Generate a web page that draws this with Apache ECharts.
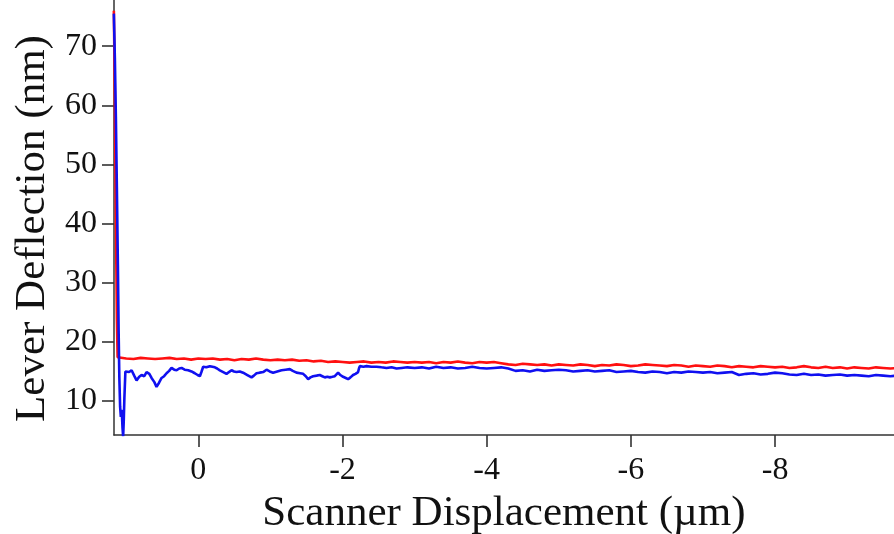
<!DOCTYPE html>
<html>
<head>
<meta charset="utf-8">
<script src="https://cdn.jsdelivr.net/npm/echarts@6/dist/echarts.min.js"></script>
<style>html,body{margin:0;padding:0;background:#fff}#c{width:894px;height:534px}</style>
</head>
<body>
<div id="c"></div>
<script>
// x tick labels (µm) and y tick labels (nm)
const xTicks = [0, -2, -4, -6, -8];
const yTicks = [10, 20, 30, 40, 50, 60, 70];

// red trace [displacement µm, deflection nm]
const redData = [
  [1.172,76],[1.16,64],[1.15,50],[1.14,36],[1.13,24],[1.12,17.4],
  [1.1,17.3],[1.0,17.2],[0.9,17.1],[0.8,17.3],[0.7,17.2],[0.6,17.1],[0.5,17.2],[0.4,17.3],[0.3,17.1],[0.2,17.2],[0.1,17.0],[0.0,17.2],
  [-0.1,17.1],[-0.2,17.2],[-0.3,17.0],[-0.4,17.1],[-0.5,16.9],[-0.6,17.1],[-0.7,17.0],[-0.8,17.2],[-0.9,17.0],[-1.0,16.9],
  [-1.1,17.0],[-1.2,16.9],[-1.3,17.0],[-1.4,16.8],[-1.5,16.9],[-1.6,16.7],[-1.7,16.8],[-1.8,16.6],[-1.9,16.7],[-2.0,16.6],
  [-2.1,16.5],[-2.2,16.6],[-2.3,16.7],[-2.4,16.5],[-2.5,16.6],[-2.6,16.5],[-2.7,16.7],[-2.8,16.6],[-2.9,16.5],[-3.0,16.6],
  [-3.1,16.5],[-3.2,16.6],[-3.3,16.4],[-3.4,16.6],[-3.5,16.5],[-3.6,16.7],[-3.7,16.5],[-3.8,16.4],[-3.9,16.6],[-4.0,16.5],
  [-4.1,16.6],[-4.2,16.4],[-4.3,16.2],[-4.4,16.1],[-4.5,16.3],[-4.6,16.2],[-4.7,16.1],[-4.8,16.2],[-4.9,16.0],[-5.0,16.2],
  [-5.1,16.1],[-5.2,16.0],[-5.3,16.2],[-5.4,16.1],[-5.5,15.9],[-5.6,16.1],[-5.7,16.0],[-5.8,16.2],[-5.9,16.1],[-6.0,15.9],
  [-6.1,16.0],[-6.2,16.2],[-6.3,16.1],[-6.4,16.0],[-6.5,15.9],[-6.6,16.1],[-6.7,16.0],[-6.8,15.8],[-6.9,16.0],[-7.0,15.9],
  [-7.1,15.8],[-7.2,16.0],[-7.3,15.9],[-7.4,15.7],[-7.5,15.9],[-7.6,15.8],[-7.7,15.7],[-7.8,15.9],[-7.9,15.8],[-8.0,15.7],
  [-8.1,15.8],[-8.2,15.6],[-8.3,15.7],[-8.4,15.9],[-8.5,15.7],[-8.6,15.6],[-8.7,15.8],[-8.8,15.6],[-8.9,15.7],[-9.0,15.5],
  [-9.1,15.7],[-9.2,15.6],[-9.3,15.5],[-9.4,15.7],[-9.5,15.6],[-9.6,15.5],[-9.7,15.6]
];

// blue trace [displacement µm, deflection nm]
const blueData = [
  [1.172,75.5],[1.158,68],[1.144,58],[1.13,46],[1.116,33],[1.106,22],[1.096,14],[1.085,9],[1.075,7.3],[1.068,8.5],
  [1.061,8],[1.052,5.5],[1.043,4.0],[1.035,6.5],[1.026,10.5],[1.012,15.0],[0.996,15.3],[0.96,14.9],[0.926,15.2],[0.89,14.3],
  [0.857,13.5],[0.82,14.1],[0.788,14.4],[0.75,14.2],[0.718,14.9],[0.68,14.6],[0.649,13.9],[0.61,13.2],[0.58,12.4],[0.545,13.1],
  [0.51,13.9],[0.475,14.2],[0.441,14.7],[0.405,15.1],[0.372,15.6],[0.335,15.3],[0.302,15.2],[0.265,15.5],[0.233,15.6],[0.19,15.3],
  [0.141,15.2],[0.095,15.0],[0.049,14.7],[0.01,14.4],[-0.021,14.2],[-0.045,15.0],[-0.067,15.8],[-0.11,15.7],[-0.16,15.9],[-0.195,15.8],
  [-0.229,15.7],[-0.26,15.5],[-0.298,15.2],[-0.345,14.9],[-0.391,14.6],[-0.425,14.9],[-0.46,15.2],[-0.495,15.0],[-0.53,14.9],[-0.575,15.0],
  [-0.621,14.8],[-0.68,14.4],[-0.738,14.0],[-0.77,14.3],[-0.807,14.7],[-0.85,14.8],[-0.899,14.9],[-0.946,15.3],[-0.99,15.0],[-1.037,14.8],
  [-1.095,15.0],[-1.154,15.2],[-1.21,15.3],[-1.269,15.4],[-1.31,15.1],[-1.362,14.8],[-1.41,14.7],[-1.454,14.6],[-1.49,14.2],[-1.523,13.7],
  [-1.555,14.0],[-1.592,14.2],[-1.64,14.3],[-1.685,14.4],[-1.72,14.2],[-1.755,14.0],[-1.79,14.1],[-1.824,14.0],[-1.86,14.1],[-1.893,14.2],
  [-1.939,14.8],[-1.97,14.4],[-2.008,14.1],[-2.045,13.9],[-2.078,13.7],[-2.11,14.0],[-2.147,14.4],[-2.18,14.6],[-2.216,14.9],[-2.228,15.5],
  [-2.24,15.9],[-2.29,15.8],[-2.333,15.9],[-2.4,15.8],[-2.472,15.8],[-2.54,15.7],[-2.61,15.6],[-2.68,15.7],[-2.749,15.5],[-2.82,15.6],
  [-2.9,15.7],[-3.0,15.6],
  [-3.1,15.7],[-3.2,15.5],[-3.3,15.8],[-3.4,15.6],[-3.5,15.7],[-3.6,15.5],[-3.7,15.6],[-3.8,15.8],[-3.9,15.6],[-4.0,15.5],
  [-4.1,15.6],[-4.2,15.7],[-4.3,15.5],[-4.4,15.1],[-4.5,15.2],[-4.6,15.0],[-4.7,15.3],[-4.8,15.1],[-4.9,15.2],[-5.0,15.3],
  [-5.1,15.2],[-5.2,15.0],[-5.3,15.1],[-5.4,15.2],[-5.5,15.0],[-5.6,15.1],[-5.7,15.2],[-5.8,14.9],[-5.9,15.0],[-6.0,15.1],
  [-6.1,14.9],[-6.2,14.8],[-6.3,15.0],[-6.4,14.9],[-6.5,14.7],[-6.6,14.9],[-6.7,14.8],[-6.8,15.0],[-6.9,14.9],[-7.0,14.8],
  [-7.1,14.9],[-7.2,14.7],[-7.3,14.8],[-7.4,14.9],[-7.5,14.4],[-7.6,14.6],[-7.7,14.7],[-7.8,14.5],[-7.9,14.6],[-8.0,14.8],
  [-8.1,14.7],[-8.2,14.5],[-8.3,14.4],[-8.4,14.6],[-8.5,14.4],[-8.6,14.5],[-8.7,14.3],[-8.8,14.4],[-8.9,14.5],[-9.0,14.3],
  [-9.1,14.4],[-9.2,14.3],[-9.3,14.2],[-9.4,14.4],[-9.5,14.3],[-9.6,14.2],[-9.7,14.3]
];

const FONT = '"Liberation Serif", "DejaVu Serif", serif';
const chart = echarts.init(document.getElementById('c'), null, {renderer: 'canvas'});
chart.setOption({
  backgroundColor: '#ffffff',
  animation: false,
  grid: {left: 114, right: 0, top: 0, bottom: 99, containLabel: false, outerBoundsMode: 'none'},
  xAxis: {
    type: 'value',
    inverse: true,
    min: -9.65,
    max: 1.17,
    name: 'Scanner Displacement (\u00b5m)',
    nameLocation: 'middle',
    nameGap: 57,
    nameTextStyle: {fontFamily: FONT, fontSize: 43, color: '#111'},
    axisLine: {show: true, onZero: false, lineStyle: {color: '#333', width: 1.5}},
    axisTick: {show: true, inside: false, length: 12, lineStyle: {color: '#333', width: 1.6}, customValues: xTicks},
    axisLabel: {fontFamily: FONT, fontSize: 32, color: '#111', margin: 20, customValues: xTicks},
    splitLine: {show: false}
  },
  yAxis: {
    type: 'value',
    min: 4.26,
    max: 77.8,
    name: 'Lever Deflection (nm)',
    nameLocation: 'middle',
    nameGap: 56,
    nameRotate: 90,
    nameTextStyle: {fontFamily: FONT, fontSize: 43, color: '#111', padding: [0, 22, 0, 0]},
    axisLine: {show: true, onZero: false, lineStyle: {color: '#333', width: 1.5}},
    axisTick: {show: true, inside: false, length: 12, lineStyle: {color: '#333', width: 1.6}, customValues: yTicks},
    axisLabel: {fontFamily: FONT, fontSize: 32, color: '#111', margin: 17, customValues: yTicks},
    splitLine: {show: false}
  },
  series: [
    {type: 'line', data: redData, showSymbol: false, symbol: 'none', lineStyle: {color: '#ff1010', width: 2.6}, z: 2},
    {type: 'line', data: blueData, showSymbol: false, symbol: 'none', lineStyle: {color: '#1010f0', width: 2.6}, z: 3}
  ]
});
</script>
</body>
</html>
